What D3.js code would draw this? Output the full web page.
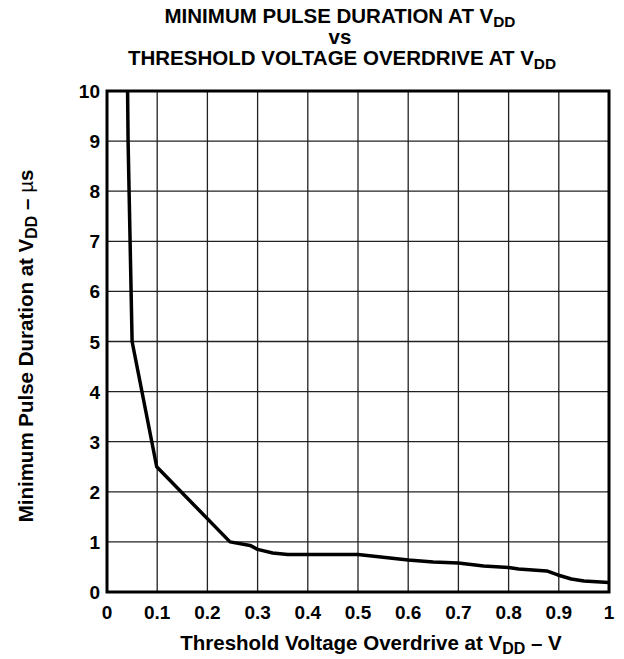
<!DOCTYPE html>
<html>
<head>
<meta charset="utf-8">
<script src="https://cdn.jsdelivr.net/npm/d3@7"></script>
<style>
  body { margin: 0; background: #fff; }
  text { font-family: "Liberation Sans", Arial, sans-serif; font-weight: bold; fill: #000; }
</style>
</head>
<body>
<div id="chart"></div>
<script>
// curve
var overdrive = [0.041, 0.042, 0.044, 0.048, 0.05, 0.099, 0.245, 0.285, 0.30, 0.33, 0.36, 0.50, 0.60, 0.65, 0.70, 0.75, 0.80, 0.82, 0.876, 0.898, 0.925, 0.95, 1.0];
var pulse     = [10, 9, 8, 6, 5, 2.5, 1.0, 0.93, 0.85, 0.78, 0.75, 0.75, 0.64, 0.6, 0.58, 0.52, 0.49, 0.46, 0.42, 0.34, 0.26, 0.22, 0.19];
var xTicks = [0, 0.1, 0.2, 0.3, 0.4, 0.5, 0.6, 0.7, 0.8, 0.9, 1];
var yTicks = [0, 1, 2, 3, 4, 5, 6, 7, 8, 9, 10];

var width = 624, height = 659;
var mLeft = 107, mRight = 609, mTop = 91, mBottom = 592;

var svg = d3.select("#chart").append("svg")
    .attr("width", width).attr("height", height);

var x = d3.scaleLinear().domain([0, 1]).range([mLeft, mRight]);
var y = d3.scaleLinear().domain([0, 10]).range([mBottom, mTop]);

// grid
svg.append("g").selectAll("line").data(xTicks).enter().append("line")
    .attr("x1", function(d){ return x(d); }).attr("x2", function(d){ return x(d); })
    .attr("y1", mTop).attr("y2", mBottom)
    .attr("stroke", "#222").attr("stroke-width", 1.3);
svg.append("g").selectAll("line").data(yTicks).enter().append("line")
    .attr("y1", function(d){ return y(d); }).attr("y2", function(d){ return y(d); })
    .attr("x1", mLeft).attr("x2", mRight)
    .attr("stroke", "#222").attr("stroke-width", 1.3);

// frame
svg.append("rect").attr("x", mLeft).attr("y", mTop)
    .attr("width", mRight - mLeft).attr("height", mBottom - mTop)
    .attr("fill", "none").attr("stroke", "#000").attr("stroke-width", 3);

// tick labels
svg.append("g").selectAll("text").data(xTicks).enter().append("text")
    .attr("x", function(d){ return x(d); }).attr("y", 618.5)
    .attr("text-anchor", "middle").style("font-size", "19px")
    .text(function(d){ return d; });
svg.append("g").selectAll("text").data(yTicks).enter().append("text")
    .attr("x", 100).attr("y", function(d){ return y(d) + 7; })
    .attr("text-anchor", "end").style("font-size", "19px")
    .text(function(d){ return d; });

// curve
var line = d3.line()
    .x(function(d){ return x(d[0]); })
    .y(function(d){ return y(d[1]); });
svg.append("path")
    .datum(d3.zip(overdrive, pulse))
    .attr("d", line)
    .attr("fill", "none").attr("stroke", "#000").attr("stroke-width", 3.5)
    .attr("stroke-linejoin", "round");

// titles
function sub(t, main, s) {
  t.append("tspan").text(main);
  t.append("tspan").text(s).style("font-size", "0.75em").attr("dy", 4);
}
var t1 = svg.append("text").attr("x", 340).attr("y", 22.5).attr("text-anchor", "middle").style("font-size", "20.5px");
sub(t1, "MINIMUM PULSE DURATION AT V", "DD");
svg.append("text").attr("x", 340).attr("y", 43.5).attr("text-anchor", "middle").style("font-size", "20.5px").text("vs");
var t3 = svg.append("text").attr("x", 342).attr("y", 65).attr("text-anchor", "middle").style("font-size", "20.5px");
sub(t3, "THRESHOLD VOLTAGE OVERDRIVE AT V", "DD");

// axis titles
var xl = svg.append("text").attr("x", 371).attr("y", 650).attr("text-anchor", "middle").style("font-size", "20.5px");
xl.append("tspan").text("Threshold Voltage Overdrive at V");
xl.append("tspan").text("DD").style("font-size", "0.78em").attr("dy", 4);
xl.append("tspan").text(" \u2013 V").attr("dy", -4);

var yl = svg.append("text").attr("transform", "translate(33,346) rotate(-90)")
    .attr("text-anchor", "middle").style("font-size", "20.5px");
yl.append("tspan").text("Minimum Pulse Duration at V");
yl.append("tspan").text("DD").style("font-size", "0.78em").attr("dy", 4);
yl.append("tspan").text(" \u2013 ").attr("dy", -4);
yl.append("tspan").text("\u00b5").style("font-weight", "normal");
yl.append("tspan").text("s");
</script>
</body>
</html>
